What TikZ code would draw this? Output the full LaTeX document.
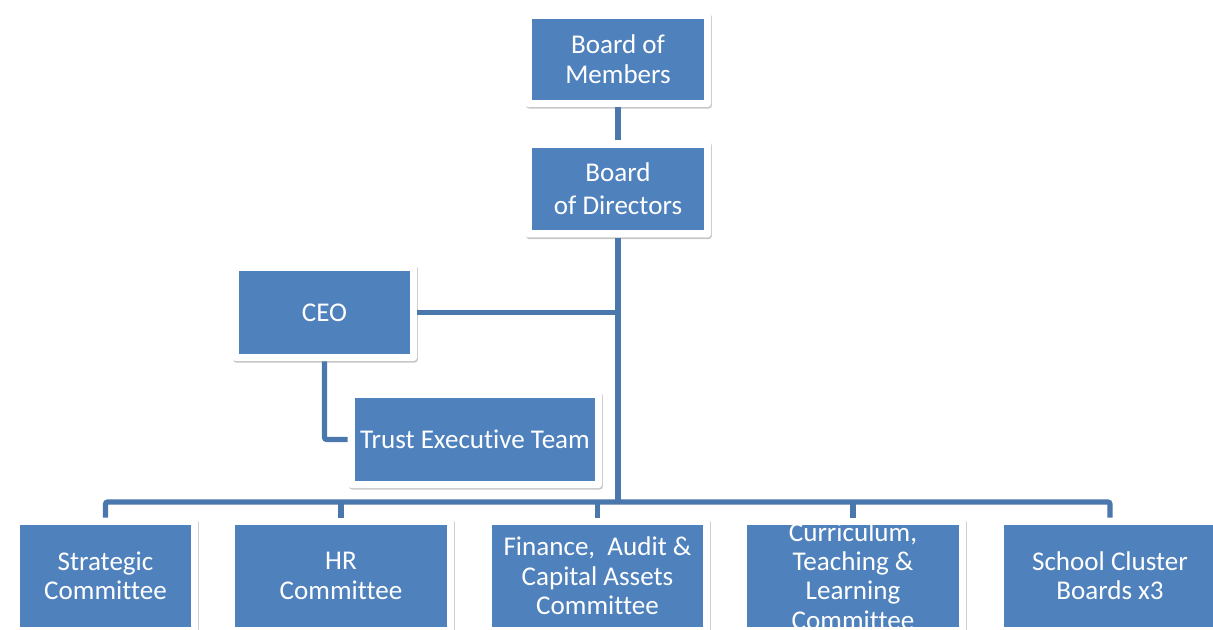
\documentclass[tikz,border=0pt]{standalone}
\usepackage{fontspec}
\setmainfont{Carlito}[Ligatures=NoCommon]
\usetikzlibrary{shadows}
\definecolor{boxblue}{HTML}{4F81BD}
\definecolor{lineblue}{HTML}{4A77AC}
\tikzset{
  orgbox/.style={rectangle, fill=white, rounded corners=2.5pt, inner sep=0pt,
    align=center, text=white, font=\fontsize{20.3}{22}\selectfont,
    drop shadow={shadow xshift=0.7pt, shadow yshift=-1.2pt, opacity=0.22, fill=black},
    path picture={\fill[boxblue, sharp corners]
      ([shift={(5.6pt,-5.3pt)}]path picture bounding box.north west) rectangle
      ([shift={(-5.6pt,5.3pt)}]path picture bounding box.south east);}},
  sz/.style 2 args={minimum width=#1*0.75pt, minimum height=#2*0.75pt},
  conn/.style={draw=lineblue, line width=3.8pt, rounded corners=1.5pt},
}
\begin{document}
\begin{tikzpicture}[x=0.75pt, y=-0.75pt]
\useasboundingbox (0,0) rectangle (1213,630);
\begin{scope}
\clip (0,0) rectangle (1213,630);
\node[orgbox, sz={186}{95}] (bm) at (618,59.5) {Board of\\[0.5pt]Members};
\node[orgbox, sz={186}{97}] (bd) at (618,189) {Board\\[2.8pt]of Directors};
\node[orgbox, sz={185}{97}] (ceo) at (324.5,312.5) {CEO};
\node[orgbox, sz={254}{97}] (tet) at (475,439.5) {Trust Executive Team};
\node[orgbox, sz={185}{116}] (strat) at (105.5,576) {Strategic\\Committee};
\node[orgbox, sz={226}{116}] (hr) at (341,576) {HR\\Committee};
\node[orgbox, sz={225}{116}] (fin) at (597.5,576) {Finance,~ Audit \&\\Capital Assets\\Committee};
\node[orgbox, sz={226}{116}] (cur) at (853,576) {Curriculum,\\Teaching \&\\Learning\\Committee};
\node[orgbox, sz={226}{116}] (sch) at (1110,576) {School Cluster\\Boards x3};
\coordinate (bus) at (618,502);
\draw[conn] (bm) -- (bd);
\draw[conn] (bd.south) -- (bus);
\draw[conn] (ceo.east) -- (ceo.east -| bd.south);
\draw[conn] (ceo.south) |- (tet.west);
\draw[conn] (strat.north) -- (strat.north |- bus) -- (sch.north |- bus) -- (sch.north);
\foreach \n in {hr,fin,cur}{\draw[conn] (bus -| \n.north) -- (\n.north);}
\end{scope}
\end{tikzpicture}
\end{document}
